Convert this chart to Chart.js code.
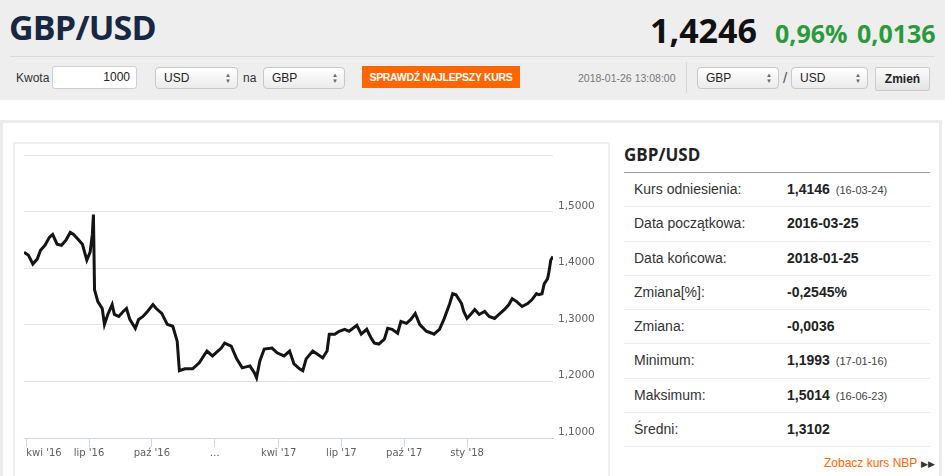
<!DOCTYPE html>
<html lang="pl">
<head>
<meta charset="utf-8">
<title>GBP/USD</title>
<script src="https://cdn.jsdelivr.net/npm/chart.js@4.4.1/dist/chart.umd.min.js"></script>
<style>
html, body { margin: 0; padding: 0; }
body { width: 945px; height: 476px; overflow: hidden; background: #fff; position: relative;
  font-family: "Liberation Sans", Arial, sans-serif; color: #333; }
.abs { position: absolute; }
.top { left: 0; top: 0; width: 945px; height: 100px; background: #eeeeee; }
.title { left: 9px; top: 10px; font: bold 34px/1 "Open Sans", sans-serif; color: #182843; letter-spacing: -0.8px; }
.rate { left: 650px; top: 13px; font: bold 34px/1 "Open Sans", sans-serif; color: #111; }
.chg { top: 21px; font: bold 25px/1 "Open Sans", sans-serif; color: #2c9a3c; }
.divider { left: 10px; top: 56px; width: 925px; height: 1px; background: #d9d9d9; }
.lbl { font-size: 12px; color: #333; }
.input { left: 52px; top: 66px; width: 85px; height: 23px; box-sizing: border-box; background: #fff;
  border: 1px solid #cfcfcf; border-radius: 3px; font-size: 12px; line-height: 21px; text-align: right; padding-right: 6px; color: #222; }
.sel { height: 22px; top: 67px; box-sizing: border-box; border: 1px solid #c8c8c8; border-radius: 4px;
  background: linear-gradient(#ffffff, #ebebeb); font-size: 12px; line-height: 20px; padding-left: 8px; color: #222; }
.sel .arr { position: absolute; right: 6px; top: 4px; font-size: 6px; line-height: 6px; color: #666; }
.btn { left: 362px; top: 66px; width: 158px; height: 22px; background: #ff6600; color: #fff;
  font: bold 10.5px/22px "Liberation Sans", Arial, sans-serif; text-align: center; letter-spacing: -0.3px; }
.stamp { left: 578px; top: 72px; font-size: 10.5px; color: #777; }
.vsep { left: 686px; top: 62px; width: 1px; height: 31px; background: #d6d6d6; }
.zmien { left: 875px; top: 67px; width: 55px; height: 24px; box-sizing: border-box; border: 1px solid #cccccc;
  border-radius: 2px; background: linear-gradient(#fbfbfb, #e4e4e4); font: bold 12px/22px "Liberation Sans", Arial, sans-serif;
  text-align: center; color: #222; }
.card { left: 0; top: 120px; width: 942px; height: 400px; box-sizing: border-box; border: 3px solid #ececec; }
.panel { left: 13px; top: 142px; width: 597px; height: 380px; box-sizing: border-box; border: 2px solid #f0f0f0; }
#wrap { position: absolute; left: 15px; top: 144px; width: 594px; height: 332px; }
.stitle { left: 624px; top: 146px; font: bold 17px/1 "Open Sans", sans-serif; color: #222; }
.sline { left: 624px; top: 172px; width: 306px; height: 1px; background: #9c9c9c; }
.rows { left: 624px; top: 173px; width: 306px; }
.row { position: relative; height: 33.3px; border-bottom: 1px solid #ececec; font-size: 14px; line-height: 33px; }
.row .k { position: absolute; left: 10px; color: #333; }
.row .v { position: absolute; left: 163px; font-weight: bold; color: #222; }
.row .d { font-weight: normal; font-size: 11px; color: #444; margin-left: 6px; }
.nbp { left: 824px; top: 456px; font-size: 12px; color: #ff6600; }
.nbp span { color: #333; font-size: 9px; margin-left: 4px; }
</style>
</head>
<body>
<div class="abs top"></div>
<div class="abs title">GBP/USD</div>
<div class="abs rate">1,4246</div>
<div class="abs chg" style="left:775px">0,96%</div>
<div class="abs chg" style="left:857px">0,0136</div>
<div class="abs divider"></div>

<div class="abs lbl" style="left:16px;top:71px">Kwota</div>
<div class="abs input">1000</div>
<div class="abs sel" style="left:155px;width:83px">USD<span class="arr">▲<br>▼</span></div>
<div class="abs lbl" style="left:243px;top:71px">na</div>
<div class="abs sel" style="left:263px;width:82px">GBP<span class="arr">▲<br>▼</span></div>
<div class="abs btn">SPRAWDŹ NAJLEPSZY KURS</div>
<div class="abs stamp">2018-01-26 13:08:00</div>
<div class="abs vsep"></div>
<div class="abs sel" style="left:697px;width:82px">GBP<span class="arr">▲<br>▼</span></div>
<div class="abs lbl" style="left:783px;top:69px;font-size:15px;color:#555">/</div>
<div class="abs sel" style="left:791px;width:77px">USD<span class="arr">▲<br>▼</span></div>
<div class="abs zmien">Zmień</div>

<div class="abs card"></div>
<div class="abs panel"></div>
<div id="wrap"><canvas id="chart"></canvas></div>

<div class="abs stitle">GBP/USD</div>
<div class="abs sline"></div>
<div class="abs rows">
  <div class="row"><span class="k">Kurs odniesienia:</span><span class="v">1,4146<span class="d">(16-03-24)</span></span></div>
  <div class="row"><span class="k">Data początkowa:</span><span class="v">2016-03-25</span></div>
  <div class="row"><span class="k">Data końcowa:</span><span class="v">2018-01-25</span></div>
  <div class="row"><span class="k">Zmiana[%]:</span><span class="v">-0,2545%</span></div>
  <div class="row"><span class="k">Zmiana:</span><span class="v">-0,0036</span></div>
  <div class="row"><span class="k">Minimum:</span><span class="v">1,1993<span class="d">(17-01-16)</span></span></div>
  <div class="row"><span class="k">Maksimum:</span><span class="v">1,5014<span class="d">(16-06-23)</span></span></div>
  <div class="row"><span class="k">Średni:</span><span class="v">1,3102</span></div>
</div>
<div class="abs nbp">Zobacz kurs NBP<span>▶▶</span></div>

<script>
// trading session number (0 = 2016-03-25) and GBP/USD close
const session = [0, 4, 8, 12, 15, 19, 23, 26, 30, 34, 38, 42, 45, 49, 53, 57, 60, 62, 63, 64,
  67, 71, 73, 76, 80, 82, 86, 90, 93, 96, 101, 104, 108, 112, 117, 120, 125, 130, 135, 139,
  141, 146, 153, 159, 166, 171, 179, 182, 188, 193, 198, 205, 209, 211, 214, 218, 225, 230, 236, 241,
  245, 250, 253, 256, 262, 266, 271, 275, 277, 282, 286, 291, 295, 302, 306, 311, 315, 318, 322, 327,
  330, 334, 339, 342, 347, 351, 355, 359, 365, 370, 372, 377, 381, 386, 389, 392, 397, 399, 402, 406,
  409, 413, 418, 422, 427, 431, 436, 440, 443, 447, 452, 457, 461, 465, 467, 470, 472, 475, 476, 478, 480];
const closes = [1.4287, 1.4234, 1.4077, 1.4164, 1.4322, 1.4409, 1.4549, 1.4601, 1.4427, 1.4409,
  1.4497, 1.4636, 1.4601, 1.4514, 1.4427, 1.4147, 1.4287, 1.4601, 1.4951, 1.3622,
  1.3413, 1.3290, 1.3010, 1.3185, 1.3360, 1.3185, 1.3150, 1.3238, 1.3290, 1.3098,
  1.2941, 1.3098, 1.3150, 1.3238, 1.3360, 1.3290, 1.3203, 1.3010, 1.2976, 1.2713,
  1.2189, 1.2224, 1.2224, 1.2329, 1.2538, 1.2451, 1.2591, 1.2678, 1.2626, 1.2399,
  1.2241, 1.2276, 1.2154, 1.2066, 1.2364, 1.2573, 1.2591, 1.2503, 1.2451, 1.2538,
  1.2311, 1.2224, 1.2189, 1.2399, 1.2538, 1.2486, 1.2416, 1.2538, 1.2836, 1.2836,
  1.2888, 1.2923, 1.2888, 1.2993, 1.2836, 1.2923, 1.2766, 1.2678, 1.2661, 1.2748,
  1.2941, 1.2923, 1.2853, 1.3063, 1.3028, 1.3098, 1.3203, 1.3010, 1.2888, 1.2853,
  1.2836, 1.2923, 1.3098, 1.3360, 1.3552, 1.3535, 1.3378, 1.3238, 1.3115, 1.3203,
  1.3273, 1.3185, 1.3238, 1.3150, 1.3115, 1.3185, 1.3273, 1.3360, 1.3465, 1.3413,
  1.3325, 1.3378, 1.3448, 1.3552, 1.3535, 1.3552, 1.3727, 1.3815, 1.3902, 1.4147, 1.4210];

// x axis labels and the session they sit at (last entry is a blank end marker)
const tickAt = [2, 59, 116, 173, 231, 288, 345, 402, 480];
const tickLabels = ["kwi '16", "lip '16", "paź '16", "…", "kwi '17", "lip '17", "paź '17", "sty '18", ""];
const yTicks = [1.1, 1.2, 1.3, 1.4, 1.5, 1.6];

new Chart(document.getElementById("chart"), {
  type: "line",
  data: {
    datasets: [{
      data: session.map((s, i) => ({ x: s, y: closes[i] })),
      borderColor: "#141414",
      borderWidth: 3,
      pointRadius: 0,
      tension: 0,
    }],
  },
  options: {
    responsive: true,
    maintainAspectRatio: false,
    animation: false,
    layout: { padding: { left: 9, top: 8, right: 0, bottom: 0 } },
    plugins: { legend: { display: false }, tooltip: { enabled: false } },
    scales: {
      x: {
        type: "linear",
        min: 0,
        max: 480,
        afterBuildTicks: s => { s.ticks = tickAt.map(v => ({ value: v })); },
        afterFit: s => { s.height = 38; s.paddingLeft = 0; s.paddingRight = 0; },
        grid: {
          drawOnChartArea: false, tickLength: 9,
          tickColor: c => (c.tick && tickLabels[tickAt.indexOf(c.tick.value)] ? "#ccd6eb" : "rgba(0,0,0,0)"),
        },
        border: { color: "#ccd6eb" },
        ticks: {
          autoSkip: false, maxRotation: 0, padding: 0, align: "inner", color: "#606060",
          font: { family: "DejaVu Sans", size: 10 },
          callback: v => { const i = tickAt.indexOf(v); return i < 0 ? "" : tickLabels[i]; },
        },
      },
      y: {
        position: "right",
        min: 1.1,
        max: 1.6,
        afterBuildTicks: s => { s.ticks = yTicks.map(v => ({ value: v })); },
        afterFit: s => { s.width = 56; },
        grid: { drawTicks: false, color: c => (c.tick && c.tick.value <= 1.1 ? "rgba(0,0,0,0)" : "#e2e2e2") },
        border: { display: false },
        ticks: {
          padding: 5, labelOffset: -6, color: "#606060",
          font: { family: "DejaVu Sans", size: 10.5 },
          callback: v => (v >= 1.6 ? "" : v.toFixed(4).replace(".", ",")),
        },
      },
    },
  },
});
</script>
</body>
</html>
